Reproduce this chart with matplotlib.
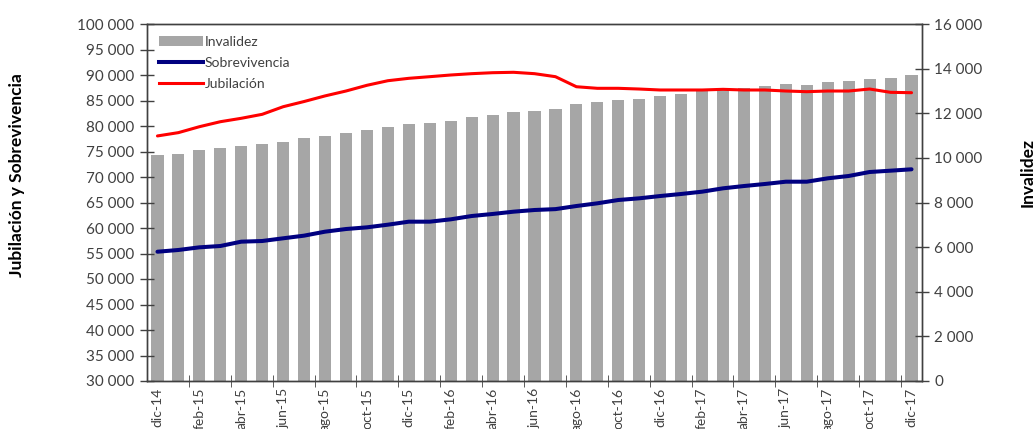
import matplotlib
matplotlib.use("Agg")
import matplotlib.pyplot as plt
from matplotlib.patches import Patch
from matplotlib.lines import Line2D
from matplotlib.ticker import FuncFormatter, FixedLocator
import numpy as np

plt.rcParams["font.family"] = ["Lato", "DejaVu Sans"]

months = [
    "dic-14", "ene-15", "feb-15", "mar-15", "abr-15", "may-15", "jun-15",
    "jul-15", "ago-15", "sep-15", "oct-15", "nov-15", "dic-15",
    "ene-16", "feb-16", "mar-16", "abr-16", "may-16", "jun-16",
    "jul-16", "ago-16", "sep-16", "oct-16", "nov-16", "dic-16",
    "ene-17", "feb-17", "mar-17", "abr-17", "may-17", "jun-17",
    "jul-17", "ago-17", "sep-17", "oct-17", "nov-17", "dic-17",
]

# invalidez (right axis)
invalidez = [
    10110, 10160, 10350, 10460, 10550, 10640, 10730,
    10890, 11000, 11100, 11235, 11385, 11535,
    11565, 11670, 11820, 11925, 12055, 12100,
    12210, 12400, 12505, 12615, 12660, 12795,
    12885, 12990, 13080, 13135, 13225, 13300,
    13270, 13380, 13435, 13540, 13600, 13705,
]

# sobrevivencia (left axis)
sobrevivencia = [
    55350, 55690, 56210, 56470, 57320, 57450, 57980,
    58500, 59280, 59800, 60130, 60650, 61240,
    61240, 61700, 62350, 62750, 63200, 63530,
    63700, 64310, 64840, 65490, 65820, 66270,
    66670, 67120, 67780, 68230, 68630, 69080,
    69080, 69740, 70200, 70980, 71240, 71510,
]

# jubilacion (left axis)
jubilacion = [
    78050, 78700, 79860, 80840, 81510, 82290, 83780,
    84800, 85900, 86860, 87980, 88880, 89350,
    89670, 90000, 90260, 90450, 90530, 90260,
    89670, 87700, 87390, 87390, 87250, 87060,
    87060, 87060, 87190, 87060, 87060, 86860,
    86730, 86860, 86860, 87250, 86600, 86530,
]

tick_color = "#404040"
spine_color = "#404040"


def space_thousands(v, pos):
    return f"{int(round(v)):,}".replace(",", " ")


fig = plt.figure(figsize=(10.35, 4.29), dpi=100)
ax = fig.add_axes([147 / 1035, 48 / 429, 775 / 1035, 357 / 429])
ax2 = ax.twinx()

x = np.arange(len(months))

ax2.bar(x, invalidez, width=0.58, color="#A6A6A6", zorder=1)
ax.plot(x, sobrevivencia, color="#000080", lw=2.9, solid_capstyle="round", zorder=3)
ax.plot(x, jubilacion, color="#FF0000", lw=2.2, solid_capstyle="round", zorder=3)

# lines above the bars
ax.set_zorder(ax2.get_zorder() + 1)
ax.patch.set_visible(False)

ax.set_xlim(-0.5, len(months) - 0.5)
ax.set_ylim(30000, 100000)
ax2.set_ylim(0, 16000)

ax.set_yticks(np.arange(30000, 100001, 5000))
ax2.set_yticks(np.arange(0, 16001, 2000))
ax.yaxis.set_major_formatter(FuncFormatter(space_thousands))
ax2.yaxis.set_major_formatter(FuncFormatter(space_thousands))

ax.set_xticks(x[::2])
ax.set_xticklabels(months[::2], rotation=90)
ax.xaxis.set_minor_locator(FixedLocator(np.arange(1.5, len(months), 2)))
ax.tick_params(axis="x", which="major", length=0, pad=5, labelsize=10, labelcolor=tick_color)
ax.tick_params(axis="x", which="minor", direction="inout", length=8, color=spine_color)
ax.tick_params(axis="y", direction="inout", length=10, width=1, color=spine_color,
               labelsize=11, labelcolor=tick_color, pad=4)
ax2.tick_params(axis="y", direction="inout", length=10, width=1, color=spine_color,
                labelsize=11, labelcolor=tick_color, pad=4)

for a in (ax, ax2):
    for s in a.spines.values():
        s.set_color(spine_color)
        s.set_linewidth(1)

ax.set_ylabel("Jubilación y Sobrevivencia", fontsize=12.5, fontweight="bold")
ax.yaxis.set_label_coords(-0.157, 0.577)
ax2.set_ylabel("Invalidez", fontsize=12.5, fontweight="bold")
ax2.yaxis.set_label_coords(1.126, 0.583)

handles = [
    Patch(facecolor="#A6A6A6", edgecolor="none"),
    Line2D([], [], color="#000080", lw=2.9),
    Line2D([], [], color="#FF0000", lw=2.2),
]
leg = ax.legend(handles, ["Invalidez", "Sobrevivencia", "Jubilación"],
                loc="upper left", bbox_to_anchor=(0.0, 1.0), frameon=False,
                fontsize=10, handlelength=3.2, handletextpad=0.1,
                labelspacing=0.65, borderaxespad=0.45)
for t in leg.get_texts():
    t.set_color("#404040")

fig.savefig("out.png", dpi=100)
